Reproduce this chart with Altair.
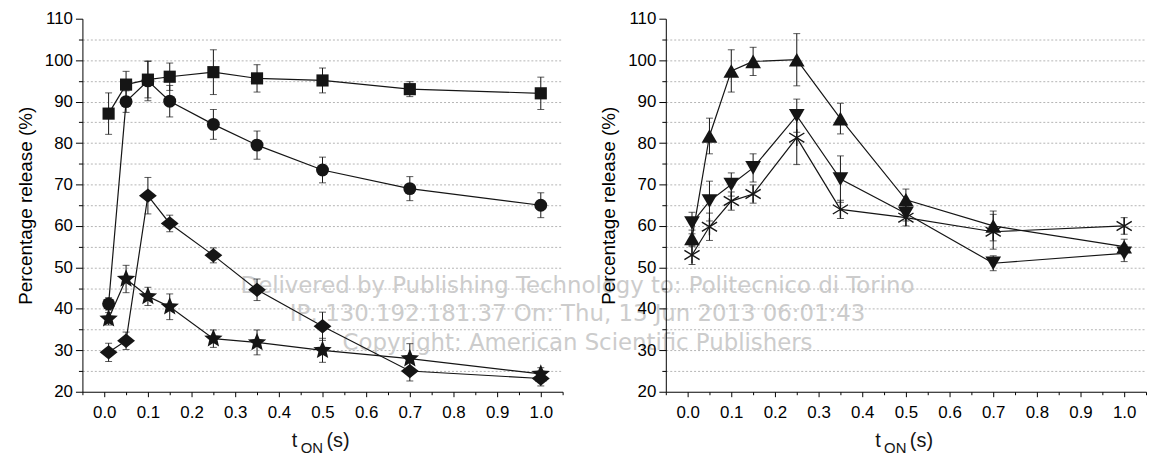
import altair as alt
import pandas as pd

# ---------------- data ----------------
t_on = [0.01, 0.05, 0.1, 0.15, 0.25, 0.35, 0.5, 0.7, 1.0]

# left panel
square_mean = [87.1, 94.1, 95.3, 96.0, 97.1, 95.6, 95.1, 93.0, 92.0]
square_sd = [5.0, 3.2, 4.4, 3.3, 5.4, 3.3, 3.0, 1.8, 3.9]
circle_mean = [41.2, 90.0, 95.0, 90.1, 84.5, 79.5, 73.5, 69.0, 65.0]
circle_sd = [1.5, 2.6, 4.8, 3.8, 3.6, 3.4, 3.1, 2.9, 3.0]
diamond_mean = [29.5, 32.3, 67.3, 60.6, 52.9, 44.6, 35.8, 25.0, 23.2]
diamond_sd = [2.2, 2.1, 4.4, 2.0, 1.8, 2.6, 3.4, 2.4, 1.8]
star_mean = [37.6, 47.2, 43.0, 40.5, 32.8, 31.9, 30.0, 28.0, 24.3]
star_sd = [1.5, 3.3, 2.2, 3.1, 2.1, 3.0, 2.9, 3.6, 1.5]

# right panel
triup_mean = [57.0, 81.7, 97.4, 99.7, 100.1, 85.9, 66.3, 60.0, 55.0]
triup_sd = [2.0, 4.3, 5.1, 3.4, 6.3, 3.7, 2.6, 3.6, 1.8]
tridown_mean = [60.7, 66.0, 70.0, 74.0, 86.6, 71.3, 63.0, 51.0, 53.4]
tridown_sd = [2.6, 4.8, 2.8, 3.4, 4.0, 5.6, 1.8, 1.8, 2.0]
aster_mean = [53.0, 59.8, 66.0, 67.7, 81.3, 64.0, 62.0, 58.6, 60.0]
aster_sd = [2.3, 3.3, 2.2, 2.2, 6.5, 2.2, 2.0, 4.2, 2.0]

X_TICKS = [-0.05, 0.0, 0.05, 0.1, 0.15, 0.2, 0.25, 0.3, 0.35, 0.4, 0.45, 0.5,
           0.55, 0.6, 0.65, 0.7, 0.75, 0.8, 0.85, 0.9, 0.95, 1.0, 1.05]
Y_TICKS = [20, 25, 30, 35, 40, 45, 50, 55, 60, 65, 70, 75, 80, 85, 90, 95,
           100, 105, 110]
Y_TITLE = "Percentage release (%)"
WATERMARK = [
    "Delivered by Publishing Technology to: Politecnico di Torino",
    "IP: 130.192.181.37 On: Thu, 13 Jun 2013 06:01:43",
    "Copyright: American Scientific Publishers",
]

# ---------------- styling ----------------
INK = "#151515"
FONT = "Liberation Sans"
W, H = 484, 376

DIAMOND = "M0,-0.8L1,0L0,0.8L-1,0Z"
STAR = ("M0,-1L0.265,-0.364L0.951,-0.309L0.428,0.139L0.588,0.809L0,0.45"
        "L-0.588,0.809L-0.428,0.139L-0.951,-0.309L-0.265,-0.364Z")
ASTER = "M0,-1L0,1M-0.9,-0.55L0.9,0.55M-0.9,0.55L0.9,-0.55"


def frame(name, mean, sd):
    return pd.DataFrame({
        "series": name,
        "t": t_on,
        "mean": mean,
        "lo": [m - s for m, s in zip(mean, sd)],
        "hi": [m + s for m, s in zip(mean, sd)],
    })


x_scale = alt.Scale(domain=[-0.05, 1.05], nice=False, zero=False)
y_scale = alt.Scale(domain=[20, 110], nice=False, zero=False)

x_axis = alt.Axis(
    values=X_TICKS, title=None, grid=False,
    labelExpr="(abs(datum.value*10 - round(datum.value*10)) < 1e-6 && datum.value > -0.01 && datum.value < 1.01) ? format(datum.value, '.1f') : ''",
    tickSize={"condition": {"test": "abs(datum.value*10 - round(datum.value*10)) < 1e-6", "value": 5}, "value": 3},
    labelPadding=8, labelFlush=False, labelOverlap=False,
)
y_axis = alt.Axis(
    values=Y_TICKS, title=Y_TITLE, grid=True,
    labelExpr="datum.value % 10 === 0 ? datum.label : ''",
    tickSize={"condition": {"test": "datum.value % 10 === 0", "value": 7}, "value": 4},
    gridOpacity={"condition": {"test": "datum.value === 20 || datum.value === 110", "value": 0}, "value": 1},
    gridDash=[2, 2], gridColor="#b4b4b4", gridWidth=1,
    labelPadding=3, titlePadding=9, labelOverlap=False, labelFlush=False,
)


def X(field):
    return alt.X(field, type="quantitative", scale=x_scale, axis=x_axis)


def Y(field):
    return alt.Y(field, type="quantitative", scale=y_scale, axis=y_axis)


def panel(series, watermark=False):
    df = pd.concat([frame(n, m, s) for n, m, s, _, _, _ in series], ignore_index=True)
    base = alt.Chart(df)
    layers = []
    one = pd.DataFrame({"k": [0]})
    if watermark:
        for i, line in enumerate(WATERMARK):
            layers.append(
                alt.Chart(one).mark_text(
                    font="DejaVu Sans", fontSize=23, color="#cccccc", align="center", baseline="alphabetic"
                ).encode(x=alt.value(499), y=alt.value(276 + 29 * i), text=alt.value(line))
            )
    layers.append(base.mark_rule(color=INK, strokeWidth=1).encode(x=X("t"), y=Y("lo"), y2="hi"))
    layers.append(base.mark_tick(orient="horizontal", size=7, thickness=1, color=INK).encode(x=X("t"), y=Y("lo")))
    layers.append(base.mark_tick(orient="horizontal", size=7, thickness=1, color=INK).encode(x=X("t"), y=Y("hi")))
    layers.append(base.mark_line(color=INK, strokeWidth=1.2).encode(x=X("t"), y=Y("mean"), detail="series:N"))
    for name, _, _, shape, size, filled in series:
        if filled:
            mk = base.transform_filter(alt.datum.series == name).mark_point(
                shape=shape, size=size, filled=True, color=INK, opacity=1)
        else:
            mk = base.transform_filter(alt.datum.series == name).mark_point(
                shape=shape, size=size, filled=False, color=INK, opacity=1, strokeWidth=1.4)
        layers.append(mk.encode(x=X("t"), y=Y("mean")))
    # x-axis title with subscript
    layers.append(alt.Chart(one).mark_text(font=FONT, fontSize=20, color=INK, align="left", baseline="alphabetic")
                  .encode(x=alt.value(211), y=alt.value(432), text=alt.value("t")))
    layers.append(alt.Chart(one).mark_text(font=FONT, fontSize=15, color=INK, align="left", baseline="alphabetic")
                  .encode(x=alt.value(220), y=alt.value(438), text=alt.value("ON")))
    layers.append(alt.Chart(one).mark_text(font=FONT, fontSize=20, color=INK, align="left", baseline="alphabetic")
                  .encode(x=alt.value(246), y=alt.value(432), text=alt.value("(s)")))
    return alt.layer(*layers).properties(width=W, height=H)


left = panel([
    ("square", square_mean, square_sd, "square", 150, True),
    ("circle", circle_mean, circle_sd, "circle", 169, True),
    ("diamond", diamond_mean, diamond_sd, DIAMOND, 324, True),
    ("star", star_mean, star_sd, STAR, 380, True),
], watermark=True)

right = panel([
    ("triup", triup_mean, triup_sd, "triangle-up", 250, True),
    ("tridown", tridown_mean, tridown_sd, "triangle-down", 250, True),
    ("aster", aster_mean, aster_sd, ASTER, 289, False),
])

chart = alt.hconcat(left, right, spacing=104, bounds="flush").configure_view(
    stroke=None
).configure_axis(
    labelFont=FONT, labelFontSize=17, labelColor="black",
    titleFont=FONT, titleFontSize=19, titleFontWeight="normal", titleColor="black",
    domainColor="black", domainWidth=1, tickColor="black", tickWidth=1,
).properties(padding={"left": 8, "top": 0, "right": 0, "bottom": 0}, background="white")

chart.save("out.html", embed_options={"renderer": "svg", "actions": False})
